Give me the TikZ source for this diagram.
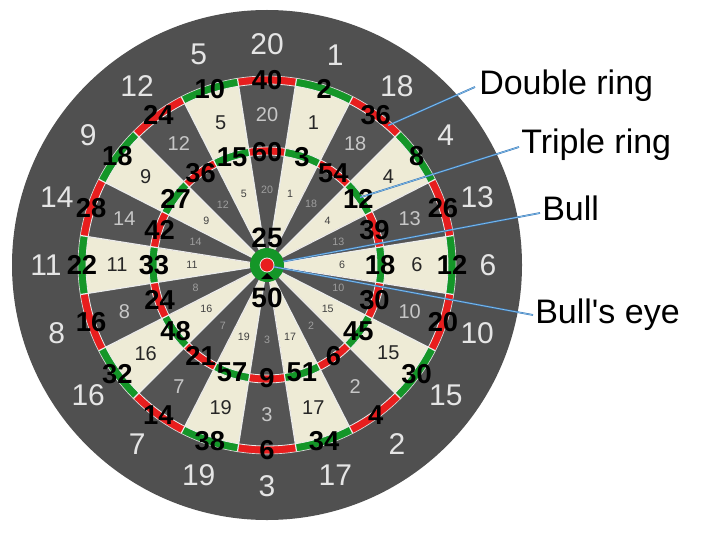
\documentclass[tikz,border=0pt]{standalone}
\usepackage{fontspec}
\setmainfont{Liberation Sans}
\newfontfamily\labelfont{Liberation Sans}
\usetikzlibrary{calc}

\definecolor{boardgray}{RGB}{80,80,80}
\definecolor{segdark}{RGB}{84,84,84}
\definecolor{segcream}{RGB}{238,235,214}
\definecolor{ringred}{RGB}{232,30,30}
\definecolor{ringgreen}{RGB}{20,150,40}
\definecolor{callblue}{RGB}{60,120,185}
\definecolor{calllight}{RGB}{135,195,235}

\tikzset{
  outernum/.style={text=white!90!black, font=\fontsize{22.5}{22.5}\selectfont, inner sep=0pt},
  scorenum/.style={text=black, font=\bfseries\fontsize{20.5}{20.5}\selectfont, inner sep=0pt},
  bignum/.style={font=\fontsize{15}{15}\selectfont, inner sep=0pt},
  smallnum/.style={font=\fontsize{8}{8}\selectfont, inner sep=0pt},
  wire/.style={draw=white!92!black, line width=0.9pt},
  callout/.style={draw=callblue, double=calllight, double distance=0.5pt, line width=0.4pt},
  calltext/.style={anchor=base west, inner sep=0pt, font=\labelfont\fontsize{25.5}{25.5}\selectfont},
}

\begin{document}
\begin{tikzpicture}[x=0.75pt, y=0.75pt]
  \useasboundingbox (0,0) rectangle (720,533);
  \coordinate (C) at (267,268);

  % board
  \fill[boardgray] (C) circle[radius=255];
  \foreach \n [count=\k from 0] in {20,1,18,4,13,6,10,15,2,17,3,19,7,16,8,11,14,9,12,5}{
    \pgfmathsetmacro{\a}{90-18*\k}
    \ifodd\k
      \def\segcol{segcream}\def\ringcol{ringgreen}
    \else
      \def\segcol{segdark}\def\ringcol{ringred}
    \fi
    \foreach \r/\c in {189/\ringcol,181/\segcol,118/\ringcol,110/\segcol}{
      \fill[\c] (C) -- ++(\a-9:\r) arc[start angle=\a-9, end angle=\a+9, radius=\r] -- cycle;
    }
  }

  % wires
  \foreach \k in {0,...,19}{
    \draw[wire] ($(C)+(99+18*\k:17)$) -- ($(C)+(99+18*\k:189)$);
  }
  \foreach \r in {110,118,181}{
    \draw[wire, line width=0.6pt] (C) circle[radius=\r];
  }
  \draw[white!70!gray, line width=0.5pt] (C) circle[radius=189];

  % bull
  \fill[ringgreen] (C) circle[radius=17];
  \fill[ringred, draw=white!85!gray, line width=0.6pt] (C) circle[radius=7];
  \fill[black] ($(C)+(0,-8)$) -- ++(6,-6) -- ++(-12,0) -- cycle;

  % numbers
  \foreach \n [count=\k from 0] in {20,1,18,4,13,6,10,15,2,17,3,19,7,16,8,11,14,9,12,5}{
    \pgfmathsetmacro{\a}{90-18*\k}
    \pgfmathtruncatemacro{\dbl}{2*\n}
    \pgfmathtruncatemacro{\trp}{3*\n}
    \ifodd\k
      \def\bigcol{black!85}\def\smallcol{black!75}
    \else
      \def\bigcol{white!78!black}\def\smallcol{white!62!black}
    \fi
    \node[outernum] (out\n) at ($(C)+(\a:221)$) {\n};
    \node[bignum, text=\bigcol] (sgl\n) at ($(C)+(\a:150)$) {\n};
    \node[smallnum, text=\smallcol] (inn\n) at ($(C)+(\a:75)$) {\n};
    \node[scorenum] (dbl\n) at ($(C)+(\a:185)$) {\dbl};
    \node[scorenum] (trp\n) at ($(C)+(\a:113)$) {\trp};
  }
  \node[scorenum, font=\bfseries\fontsize{21}{21}\selectfont] (bull) at ($(C)+(0,27)$) {25};
  \node[scorenum, font=\bfseries\fontsize{21}{21}\selectfont] (eye) at ($(C)+(0,-33)$) {50};

  % callouts
  \coordinate (dblpt) at ($(C)+(49:185)$);
  \coordinate (trppt) at ($(C)+(36:115)$);
  \coordinate (bullpt) at ($(C)+(12:17)$);
  \coordinate (eyept) at ($(C)+(-15:7)$);
  \node[calltext] (dbltxt) at (479,438) {Double ring};
  \node[calltext] (trptxt) at (521,380) {Triple ring};
  \node[calltext] (bulltxt) at (542,313) {Bull};
  \node[calltext] (eyetxt) at (535,210) {Bull's eye};
  \draw[callout] ([shift={(-4,8)}]dbltxt.base west) -- (dblpt);
  \draw[callout] ([shift={(-2,6)}]trptxt.base west) -- (trppt);
  \draw[callout] ([shift={(-2,7)}]bulltxt.base west) -- (bullpt);
  \draw[callout] ([shift={(-2,8)}]eyetxt.base west) -- (eyept);
\end{tikzpicture}
\end{document}
